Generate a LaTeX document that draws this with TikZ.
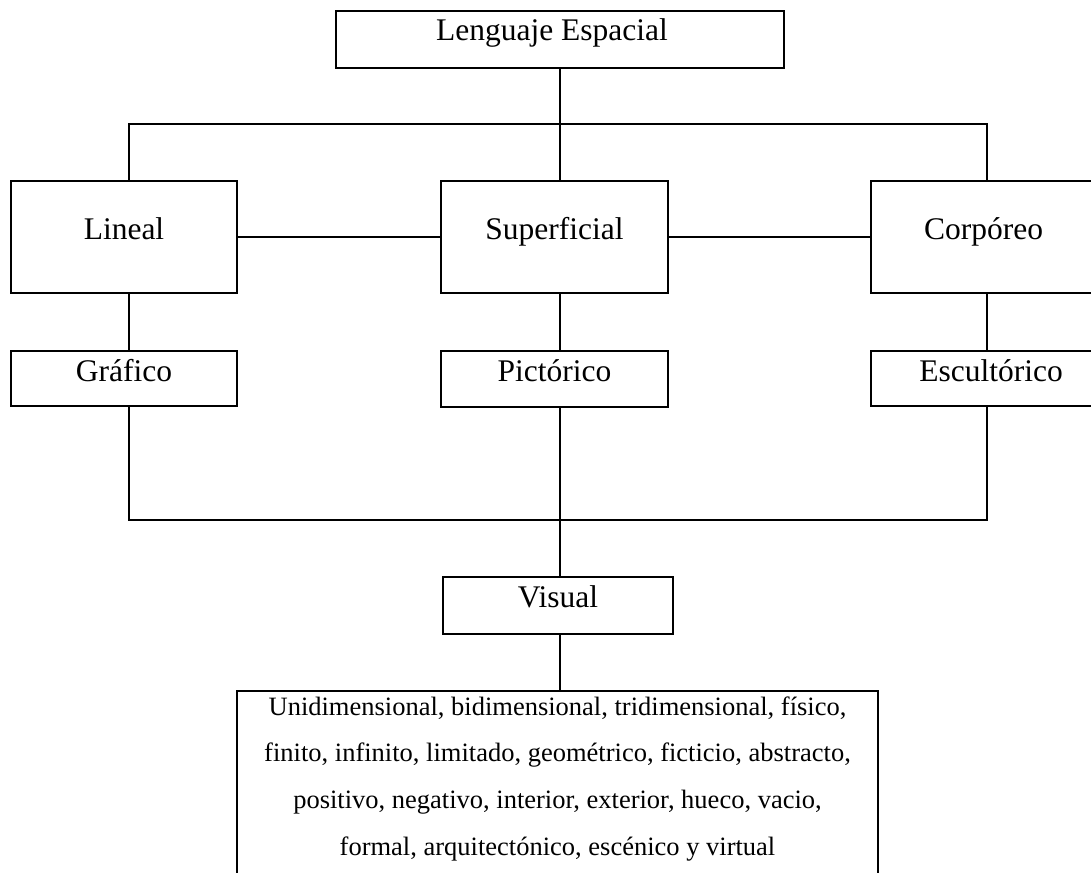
\documentclass[tikz,border=0pt]{standalone}
\usepackage{fontspec}
\setmainfont{Liberation Serif}
\usepackage{tikz}

\begin{document}
\begin{tikzpicture}[x=1pt, y=-1pt, line width=2pt,
    caja/.style={draw, rectangle, inner sep=0pt, outer sep=0pt, anchor=north west,
        font=\fontsize{31.5}{38}\selectfont}]
    \useasboundingbox (0,0) rectangle (1091,872);
    \newcommand{\caja}[7]{
        \node[caja, minimum width=#3pt, text height=#4pt, text depth=#5pt] (#1) at (#2) {#6#7};
    }
    % cajas
    \caja{lenguaje}{336,11}{448}{30}{27}{Lenguaje Espacial}{\hspace*{16pt}};
    \caja{lineal}{11,181}{226}{58}{54}{Lineal}{};
    \caja{superficial}{441,181}{227}{58}{54}{Superficial}{};
    \caja{corporeo}{871,181}{225}{58}{54}{Corpóreo}{};
    \caja{grafico}{11,351}{226}{30}{25}{Gráfico}{};
    \caja{pictorico}{441,351}{227}{30}{26}{Pictórico}{};
    \caja{escultorico}{871,351}{240}{30}{25}{Escultórico}{};
    \caja{visual}{443,577}{230}{30}{27}{Visual}{};
    \node[caja, minimum width=641pt, text height=24pt, text depth=176pt] (atributos) at (237,691)
        {\parbox[t]{641pt}{\fontsize{26.5}{46.7}\selectfont\centering
            Unidimensional, bidimensional, tridimensional, físico,\\
            finito, infinito, limitado, geométrico, ficticio, abstracto,\\
            positivo, negativo, interior, exterior, hueco, vacio,\\
            formal, arquitectónico, escénico y virtual}};
    % lineas
    \coordinate (bus1) at (560,124);
    \coordinate (bus2) at (560,520);
    \draw (lenguaje.south) -- ([xshift=5.5pt]superficial.north);
    \draw ([xshift=5pt]lineal.north) |- (bus1) -| ([xshift=3.5pt]corporeo.north);
    \draw (lineal) -- (superficial);
    \draw (superficial) -- (corporeo);
    \draw ([xshift=5pt]lineal.south) -- ([xshift=5pt]grafico.north);
    \draw ([xshift=5.5pt]superficial.south) -- ([xshift=5.5pt]pictorico.north);
    \draw ([xshift=3.5pt]corporeo.south) -- ([xshift=3.5pt]corporeo.south |- escultorico.north);
    \draw ([xshift=5pt]grafico.south) |- (bus2) -| ([xshift=3.5pt]corporeo.south |- escultorico.south);
    \draw ([xshift=5.5pt]pictorico.south) -- (bus2) -- (bus2 |- visual.north);
    \draw (visual.south -| bus2) -- (bus2 |- atributos.north);
\end{tikzpicture}
\end{document}
